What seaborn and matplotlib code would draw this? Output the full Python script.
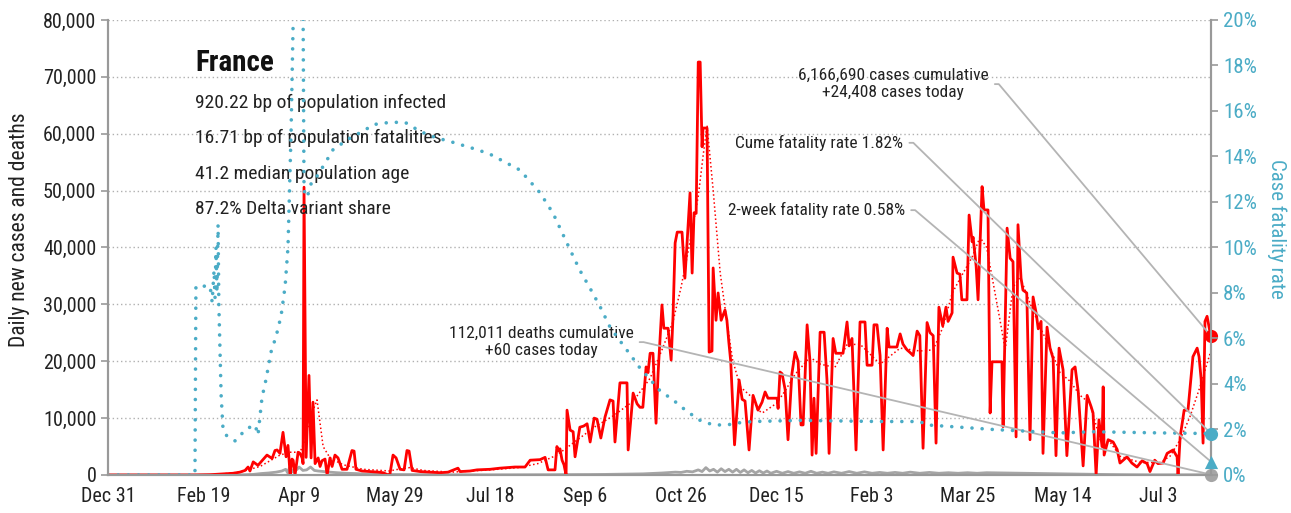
import matplotlib
matplotlib.use("Agg")
import matplotlib.pyplot as plt
import seaborn as sns
import numpy as np
import pandas as pd
from matplotlib import font_manager

# データ（2019-12-31 からの経過日数）
start = pd.Timestamp("2019-12-31")

case_days = [0, 45.5, 53.4, 58.6, 65.4, 69, 71.7, 73.3, 74.3, 76, 78.5, 80.6, 83.2, 85.9, 87.4, 88.5, 90,
             91.6, 93.2, 94.2, 94.8, 95.3, 96.3, 96.9, 97.9, 99.5, 100.5, 101.6, 102.1, 102.6, 103.7, 105.2,
             106.3, 107.3, 108.4, 110, 111, 112, 113.6, 114.7, 116.2, 117.3, 118.8, 120.4, 122.5, 125.1,
             127.7, 128.8, 129.8, 133, 137.2, 141.4, 144, 146.6, 147.6, 149.2, 150.8, 152.9, 155, 156.5,
             157.6, 159.2, 163.4, 168.6, 173.8, 178, 183.2, 184.3, 189.5, 193.2, 200, 205.2, 209.4, 213,
             218.3, 221, 226.2, 228.8, 230.4, 234, 235, 236, 236.6, 237.7, 238.7, 239.8, 240.3, 241.9,
             243.5, 244.5, 247, 249, 250.8, 252.4, 254.5, 256, 258, 260.2, 262.8, 264.4, 265.4, 268, 271.7,
             272.3, 274.9, 277, 278.5, 280, 281.7, 282.7, 283.8, 285.3, 286.9, 288, 290, 291, 293.2, 294.8,
             295.8, 296.9, 298, 300.5, 302, 303, 304.7, 305.8, 306.8, 307.9, 309, 310, 311, 311.5, 313.6,
             314.7, 316.2, 316.8, 318.3, 319.4, 321, 323, 324, 325, 326, 328, 330.4, 332, 333.5, 335.6,
             337.7, 340.3, 342.4, 344, 345.5, 350.3, 350.8, 351.8, 352.9, 354.5, 356, 358, 359.7, 361.3,
             362.8, 363.9, 366, 367.5, 368.6, 369.6, 370.7, 372.8, 374.9, 376.4, 377.5, 379.6, 381, 384.8,
             386.9, 388, 389.5, 391.6, 393.7, 396.3, 397.4, 400, 401, 402.6, 404.2, 405.8, 407.9, 408.9,
             413, 414.7, 416.2, 418.3, 420, 421.5, 423.6, 425, 426.7, 428.8, 430.4, 432, 433.5, 435, 437,
             438.7, 439.8, 441.9, 442.4, 444.5, 446, 447, 449.7, 450.8, 452.4, 452.9, 454.5, 455.5, 457.6,
             458.6, 460.7, 461.8, 462.8, 468, 468.6, 470.7, 472.3, 473.8, 475.4, 476.4, 478, 479, 481,
             482.7, 484.3, 485.9, 487, 488.5, 489.5, 491.6, 493.2, 494.8, 496.3, 497.9, 500, 502, 504.7,
             506.3, 507.9, 510.5, 512.6, 514.7, 515.7, 517.3, 518.8, 520.4, 521, 521.5, 523.6, 526.2,
             528.3, 529.8, 533.5, 536, 538.7, 541.4, 544, 545.5, 548, 549.7, 552.4, 554.5, 557.6, 559.7,
             560.2, 561.3, 562.3, 563.4, 565.4, 567, 568, 570.2, 571.2, 572.3, 573.3, 574.3, 575.4, 577,
             577.5]
case_vals = [0, 0, 50, 150, 300, 500, 800, 1400, 700, 2300, 1700, 2500, 3500, 2900, 4300, 4400, 3800,
             7500, 3200, 5200, 2600, 0, 2800, 2600, 0, 4000, 3800, 3000, 2000, 50600, 3100, 17500,
             3000, 12800, 2000, 3000, 1500, 2500, 2800, 0, 3000, 1500, 3500, 3000, 1000, 1000,
             4300, 4200, 1000, 700, 600, 500, 400, 0, 200, 3500, 3000, 1000, 900, 4300,
             4200, 800, 600, 500, 400, 500, 1200, 600, 700, 900, 1000, 1200, 1300, 1400,
             1400, 2600, 2700, 3100, 900, 900, 5000, 4200, 4600, 2600, 1800, 0, 11400, 7900,
             7600, 3200, 8400, 8600, 9000, 5800, 10000, 9800, 6500, 10200, 13200, 13000, 5800, 16200, 16200,
             4400, 14400, 12500, 11900, 11900, 19000, 18000, 21400, 21400, 9100, 18000, 29900, 25800, 25800, 20200,
             28000, 40800, 42700, 42700, 34600, 40000, 49600, 35500, 46100, 46000, 72600, 72600, 57700, 61000, 61000,
             21600, 21800, 36400, 27200, 32000, 27200, 29000, 27200, 23400, 20000, 5300, 16700, 13300, 13000, 4400,
             14000, 11400, 12800, 14600, 13500, 13500, 11700, 18100, 17800, 15000, 6200, 17700, 21600, 20000,
             8800, 8800, 26400, 20000, 3500, 13500, 3800, 25100, 25100, 16700, 3800, 24000, 21400, 21400,
             26900, 22700, 24000, 4400, 26900, 26900, 19300, 19300, 26400, 26400, 21000, 4400, 25800, 22500,
             22500, 24800, 23000, 22000, 21500, 21000, 25300, 24500, 4700, 26800, 25000, 24500, 5600, 29500, 26200,
             29500, 27000, 28500, 38300, 35500, 35300, 30800, 30800, 45700, 41000, 41800, 36700, 30800, 50700,
             46600, 46600, 10900, 19900, 19900, 8500, 43400, 38100, 37500, 6700, 44000, 34600, 32500, 32000,
             6200, 31300, 28500, 25700, 27000, 3800, 26000, 22300, 20500, 3400, 22300, 18500, 3400, 18500,
             19000, 14800, 1600, 14000, 12000, 10900, 0, 9700, 5000, 15500, 3500, 6200, 5800,
             4500, 2100, 3200, 2100, 1400, 2500, 2000, 600, 2600, 2000, 2100, 3800, 4400, 3200,
             0, 6700, 9000, 11400, 11400, 17200, 20800, 22300, 20800, 16800, 5600, 27000, 27900, 25000,
             24408]

avg_days = [0, 55, 69, 79.6, 90, 95.3, 100.5, 103, 105.8, 109.4, 112.6, 116.2, 123, 133.5, 147.6, 150,
            158, 165, 180, 200, 215, 225, 235, 245, 255, 265, 275, 283.8, 290, 295.8, 300, 304.7, 309,
            311.5, 313.6, 316.8, 320.5, 324, 327, 331, 337.7, 340, 342.5, 350, 354.5, 359.7, 367.5,
            372.8, 380.5, 386.9, 393.7, 404.2, 414.7, 425, 432, 437, 442, 447, 452.4, 456.5, 460, 467,
            469.7, 473.8, 477.5, 482.7, 487.9, 493.2, 498.4, 503.6, 508.9, 514.1, 519.4, 524.6, 529.8,
            540.3, 550.8, 556, 561.3, 566.5, 571.7, 577]
avg_vals = [0, 0, 500, 1500, 3500, 4000, 4000, 6000, 10000, 13200, 5000, 3000, 1800, 1000, 700, 900,
            1300, 800, 500, 900, 1300, 2000, 3500, 6000, 8500, 10500, 13000, 17000, 22000, 27000, 33000,
            41000, 49000, 56000, 61500, 50100, 35500, 27000, 20200, 15500, 13500, 11500, 10900, 12600,
            14800, 17700, 20700, 19500, 18900, 22900, 23000, 19500, 22300, 21800, 22000, 25900, 32000,
            35100, 38300, 41800, 40000, 27200, 22000, 33000, 34800, 30200, 26000, 22400, 18000, 16500,
            14000, 12600, 6200, 5800, 3300, 2200, 2200, 3300, 6200, 10300, 15500, 21400]

death_days = [0, 60, 70, 76, 80, 84, 88, 91, 93, 94, 95, 97, 99, 100, 102, 104, 106, 108, 110, 113, 116,
              120, 125, 130, 135, 140, 150, 170, 200, 230, 250, 260, 270, 280, 290, 297, 300, 303, 306,
              309, 311, 313, 315, 317, 319, 321, 323, 325, 327, 329, 331, 333, 335, 337, 339, 341, 343,
              345, 347, 350, 353, 356, 359, 362, 365, 368, 371, 374, 377, 380, 384, 388, 392, 396, 400,
              404, 408, 412, 416, 420, 425, 430, 435, 440, 445, 450, 455, 460, 470, 480, 490, 500, 510,
              520, 530, 540, 550, 560, 570, 577.5]
death_vals = [0, 0, 30, 100, 250, 350, 500, 700, 1000, 400, 1300, 500, 1000, 1400, 800, 900, 1400, 800,
              700, 600, 500, 400, 300, 250, 150, 100, 80, 50, 30, 50, 80, 100, 150, 200, 350, 500, 450,
              650, 550, 900, 600, 1300, 700, 1000, 500, 1100, 600, 1000, 500, 1000, 450, 900, 400, 800,
              350, 750, 350, 700, 300, 650, 300, 600, 300, 550, 300, 650, 300, 500, 300, 550, 300, 600,
              300, 550, 300, 450, 300, 450, 300, 500, 300, 450, 300, 400, 300, 400, 300, 400, 350, 300,
              250, 200, 150, 100, 60, 40, 30, 30, 40, 60]

cfr_days = [0, 45.5, 46, 50.8, 53.4, 54.5, 55.5, 56, 56.5, 57, 57.6, 58, 59.2, 60.2, 62.3, 66.5, 69,
            71.7, 74.3, 77, 78.5, 80.6, 82.7, 85.3, 88, 90.6, 92.7, 94.2, 95.8, 96.9, 98, 100.5, 102,
            102.6, 104.2, 106.3, 108.4, 113.6, 117.8, 123, 128.3, 133.5, 138.7, 147.6, 155.5, 163.4,
            172.3, 177.5, 193.2, 200, 215.7, 226.2, 233, 241.9, 247, 252.4, 257.6, 262.8, 268, 273.3,
            278.5, 283.8, 289, 295.8, 303, 310, 316.8, 324, 331, 337.7, 362.3, 404.2, 425, 428.8, 463.4,
            498.4, 515.7, 550.8, 577.5]
cfr_vals = [0, 0, 8.3, 8.3, 8.3, 7.6, 9.0, 7.8, 10.0, 8.0, 11.0, 7.5, 3.5, 2.0, 1.7, 1.5, 1.7,
            2.0, 2.1, 2.2, 1.75, 3.4, 4.2, 5.4, 6.1, 7.0, 8.3, 10.0, 15.0, 19.9, 23.0, 25.0, 22.0,
            12.5, 12.2, 12.8, 13.0, 13.7, 14.3, 14.6, 14.9, 15.1, 15.4, 15.5, 15.5, 15.1,
            14.8, 14.7, 14.3, 14.1, 13.4, 12.4, 11.5, 9.9, 9.0, 8.2, 7.4, 6.5, 5.9, 5.3,
            4.7, 4.2, 3.7, 3.3, 2.8, 2.4, 2.2, 2.2, 2.3, 2.35, 2.4, 2.35, 2.35, 2.2, 2.0,
            1.85, 1.9, 1.85, 1.82]

last_day = 577.5
cases_total = 6166690
cases_today = 24408
deaths_total = 112011
deaths_today = 60
cume_cfr = 1.82
two_week_cfr = 0.58
tick_days = list(range(0, 551, 50))
tick_labels = [(start + pd.Timedelta(days=d)).strftime("%b %-d") for d in tick_days]

stats = ["920.22 bp of population infected",
         "16.71 bp of population fatalities",
         "41.2 median population age",
         "87.2% Delta variant share"]

RED = "#ff0000"
TEAL = "#4bacc6"
GREY = "#a5a5a5"
LEADER = "#b4b4b4"

# フォント設定（細身の書体を優先）
sns.set_style("white")
names = {f.name for f in font_manager.fontManager.ttflist}
base = "Roboto"
for cand in ["Roboto Condensed", "Archivo Narrow", "PT Sans Narrow", "Liberation Sans Narrow"]:
    if cand in names:
        base = cand
        break
plt.rcParams["font.family"] = [base, "DejaVu Sans"]

fig = plt.figure(figsize=(12.91, 5.13), dpi=100)
ax = fig.add_axes([0.0837, 0.0741, 0.8544, 0.8870])
ax2 = ax.twinx()

# 線
sns.lineplot(x=case_days, y=case_vals, ax=ax, color=RED, linewidth=2, errorbar=None, zorder=3)
sns.lineplot(x=avg_days, y=avg_vals, ax=ax, color=RED, linewidth=1.1, linestyle=":", errorbar=None, zorder=3)
sns.lineplot(x=death_days, y=death_vals, ax=ax, color=GREY, linewidth=2, errorbar=None, zorder=2)
sns.lineplot(x=cfr_days, y=cfr_vals, ax=ax2, color=TEAL, linewidth=2.6, errorbar=None)
ax2.lines[-1].set_linestyle((0, (0.01, 2.8)))
ax2.lines[-1].set_dash_capstyle("round")

# 末端マーカー
sns.scatterplot(x=[last_day], y=[cases_today], ax=ax, color=RED, s=90, clip_on=False, zorder=6, linewidth=0)
sns.scatterplot(x=[last_day], y=[deaths_today], ax=ax, color=GREY, s=90, clip_on=False, zorder=6, linewidth=0)
sns.scatterplot(x=[last_day], y=[cume_cfr], ax=ax2, color=TEAL, s=90, clip_on=False, zorder=6, linewidth=0)
sns.scatterplot(x=[last_day], y=[two_week_cfr], ax=ax2, color=TEAL, s=90, marker="^", clip_on=False,
                zorder=6, linewidth=0)

# 軸
ax.set_xlim(0, last_day)
ax.set_ylim(0, 80000)
ax2.set_ylim(0, 20)
ax.set_xticks(tick_days)
ax.set_xticklabels(tick_labels)
ax.set_yticks(np.arange(0, 80001, 10000))
ax.set_yticklabels([f"{int(v):,}" for v in np.arange(0, 80001, 10000)])
ax2.set_yticks(np.arange(0, 21, 2))
ax2.set_yticklabels([f"{v}%" for v in range(0, 21, 2)])

ax.yaxis.grid(True, linestyle=(0, (1, 2)), color="#b0b0b0", linewidth=1)
ax.xaxis.grid(False)
ax2.grid(False)

for a in (ax, ax2):
    a.spines["top"].set_visible(False)
    for s in ("left", "right", "bottom"):
        a.spines[s].set_color("#999999")
        a.spines[s].set_linewidth(1.5)
ax.tick_params(axis="both", direction="out", length=5, width=1.2, color="#999999",
               labelsize=14.5, labelcolor="#222222")
ax2.tick_params(axis="y", direction="out", length=5, width=1.2, color="#999999",
                labelsize=15, labelcolor=TEAL)

ax.set_xlabel("")
ax.set_ylabel("Daily new cases and deaths", fontsize=15.5, color="#222222")
ax.yaxis.set_label_coords(-0.071, 0.54)
ax2.set_ylabel("Case fatality rate", fontsize=15, color=TEAL, rotation=-90)
ax2.yaxis.set_label_coords(1.068, 0.54)

# タイトル・統計
ax.text(0.0789, 0.905, "France", transform=ax.transAxes, fontsize=21, fontweight="bold",
        va="center", ha="left", color="#111111", zorder=7)
for i, s in enumerate(stats):
    ax.text(0.0789, 0.818 - i * 0.078, s, transform=ax.transAxes, fontsize=14,
            va="center", ha="left", color="#222222", zorder=7)

# 注記
arrow = dict(arrowstyle="-", color=LEADER, lw=1.3, relpos=(1, 0.5), shrinkA=2, shrinkB=0,
             connectionstyle="arc,angleA=0,armA=10,angleB=0,armB=0,rad=0")
ax.annotate(f"{cases_total:,} cases cumulative\n+{cases_today:,} cases today",
            xy=(last_day, cases_today), xycoords="data",
            xytext=(0.712, 0.859), textcoords="axes fraction", ha="center", va="center",
            multialignment="center", fontsize=12.5, color="#222222", arrowprops=arrow,
            annotation_clip=False)
ax2.annotate(f"Cume fatality rate {cume_cfr:.2f}%", xy=(last_day, cume_cfr),
             xytext=(0.721, 0.730), textcoords="axes fraction", ha="right", va="center",
             fontsize=12.5, color="#222222", arrowprops=arrow, annotation_clip=False)
ax2.annotate(f"2-week fatality rate {two_week_cfr:.2f}%", xy=(last_day, two_week_cfr),
             xytext=(0.7226, 0.582), textcoords="axes fraction", ha="right", va="center",
             fontsize=12.5, color="#222222", arrowprops=arrow, annotation_clip=False)
ax.annotate(f"{deaths_total:,} deaths cumulative\n+{deaths_today} cases today",
            xy=(last_day, deaths_today), xycoords="data",
            xytext=(0.3926, 0.292), textcoords="axes fraction", ha="center", va="center",
            multialignment="center", fontsize=12.5, color="#222222", arrowprops=arrow,
            annotation_clip=False)

fig.savefig("out.png", dpi=100)
plt.close(fig)
